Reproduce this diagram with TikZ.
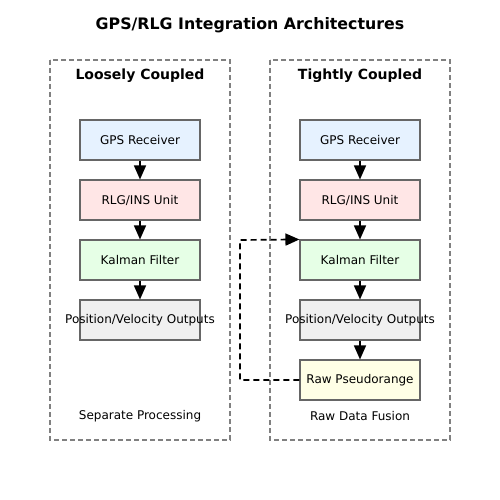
\documentclass[tikz,border=0pt]{standalone}
\usepackage{fontspec}
\setmainfont{DejaVu Sans}
\usetikzlibrary{arrows.meta}
\definecolor{cgps}{HTML}{E6F2FF}
\definecolor{crlg}{HTML}{FFE6E6}
\definecolor{ckf}{HTML}{E6FFE6}
\definecolor{cout}{HTML}{F0F0F0}
\definecolor{craw}{HTML}{FFFFE6}
\definecolor{cedge}{HTML}{666666}
\newcommand{\fitbox}[1]{\makebox[120pt][c]{#1}}
\begin{document}
\begin{tikzpicture}[x=1pt,y=-1pt,
  blockbox/.style={draw=cedge,line width=1.1pt,minimum width=120pt,minimum height=40pt,inner sep=0pt,font=\fontsize{12}{14}\selectfont},
  panel/.style={draw=gray,dash pattern=on 5pt off 3pt,line width=1.2pt},
  flow/.style={line width=1.5pt,-{Triangle[length=14pt,width=12pt]}},
  feedback/.style={line width=1.7pt,dash pattern=on 6pt off 4pt,-{Triangle[length=14pt,width=12pt]}},
  lbl/.style={font=\fontsize{12}{14}\selectfont},
  ptitle/.style={font=\bfseries\fontsize{14}{16}\selectfont}]
\useasboundingbox (0,0) rectangle (500,500);
\node[font=\bfseries\fontsize{15.8}{18}\selectfont] (title) at (250,25) {GPS/RLG Integration Architectures};
% panels
\draw[panel] (50,60) rectangle (230,440);
\draw[panel] (270,60) rectangle (450,440);
\node[ptitle] (lt) at (140,76) {Loosely Coupled};
\node[ptitle] (rt) at (360,76) {Tightly Coupled};
% left column
\node[blockbox,fill=cgps] (lgps) at (140,140) {\fitbox{GPS Receiver}};
\node[blockbox,fill=crlg] (lrlg) at (140,200) {\fitbox{RLG/INS Unit}};
\node[blockbox,fill=ckf] (lkf) at (140,260) {\fitbox{Kalman Filter}};
\node[blockbox,fill=cout] (lout) at (140,320) {\fitbox{Position/Velocity Outputs}};
\node[lbl] (lfoot) at (140,416) {Separate Processing};
% right column
\node[blockbox,fill=cgps] (rgps) at (360,140) {\fitbox{GPS Receiver}};
\node[blockbox,fill=crlg] (rrlg) at (360,200) {\fitbox{RLG/INS Unit}};
\node[blockbox,fill=ckf] (rkf) at (360,260) {\fitbox{Kalman Filter}};
\node[blockbox,fill=cout] (rout) at (360,320) {\fitbox{Position/Velocity Outputs}};
\node[blockbox,fill=craw] (rraw) at (360,380) {\fitbox{Raw Pseudorange}};
\node[lbl] (rfoot) at (360,416) {Raw Data Fusion};
% arrows
\draw[flow] (lgps) -- (lrlg);
\draw[flow] (lrlg) -- (lkf);
\draw[flow] (lkf) -- (lout);
\draw[flow] (rgps) -- (rrlg);
\draw[flow] (rrlg) -- (rkf);
\draw[flow] (rkf) -- (rout);
\draw[flow] (rout) -- (rraw);
\coordinate (fb1) at (240,380);
\coordinate (fb2) at (240,240);
\draw[feedback] (rraw.west) -- (fb1) -- (fb2) -- (rkf.north west);
\end{tikzpicture}
\end{document}
